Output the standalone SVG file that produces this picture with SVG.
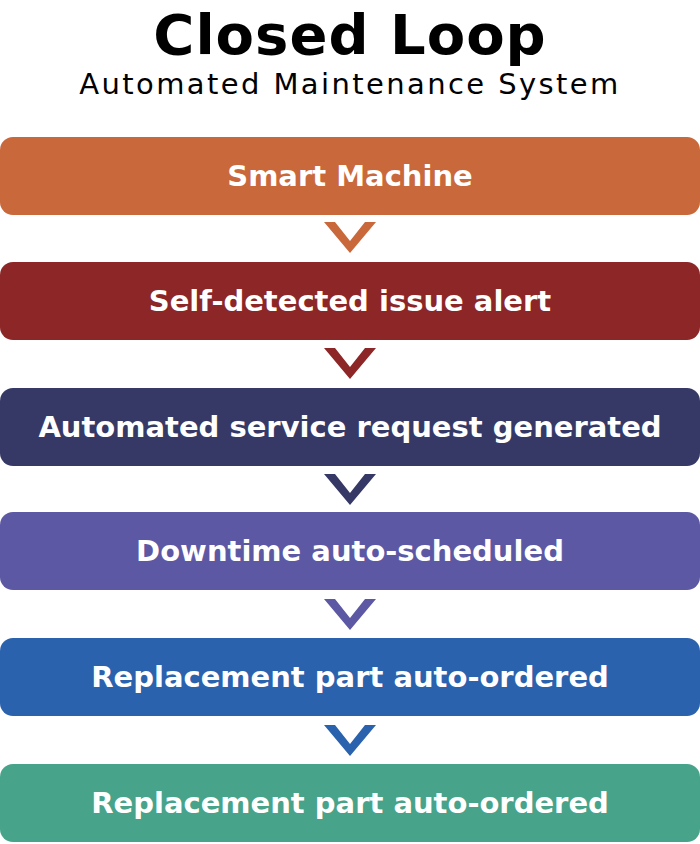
<svg xmlns="http://www.w3.org/2000/svg" width="700" height="844" viewBox="0 0 700 844">
<style>
.t{font-family:"DejaVu Sans",sans-serif;font-weight:bold;font-size:29px;fill:#fff;text-anchor:middle}
</style>
<defs><polygon id="ch" points="-26,0 -15,0 0,19 15,0 26,0 0,31"/></defs>
<rect width="700" height="844" fill="#fff"/>
<text x="350" y="54" font-family="'DejaVu Sans',sans-serif" font-weight="bold" font-size="56" letter-spacing="1" text-anchor="middle" fill="#000">Closed Loop</text>
<text x="350" y="94" font-family="'DejaVu Sans',sans-serif" font-size="29" letter-spacing="2.4" text-anchor="middle" fill="#000">Automated Maintenance System</text>
<g id="n1"><rect x="0" y="137" width="700" height="78" rx="13" fill="#c9683a"/><text class="t" x="350" y="186">Smart Machine</text></g>
<g id="n2"><rect x="0" y="262" width="700" height="78" rx="13" fill="#8c2627"/><text class="t" x="350" y="311">Self-detected issue alert</text></g>
<g id="n3"><rect x="0" y="388" width="700" height="78" rx="13" fill="#363966"/><text class="t" x="350" y="437">Automated service request generated</text></g>
<g id="n4"><rect x="0" y="512" width="700" height="78" rx="13" fill="#5d58a3"/><text class="t" x="350" y="561">Downtime auto-scheduled</text></g>
<g id="n5"><rect x="0" y="638" width="700" height="78" rx="13" fill="#2a62ad"/><text class="t" x="350" y="687">Replacement part auto-ordered</text></g>
<g id="n6"><rect x="0" y="764" width="700" height="78" rx="13" fill="#48a38b"/><text class="t" x="350" y="813">Replacement part auto-ordered</text></g>
<g id="connectors">
<use href="#ch" x="350" y="222" fill="#c9683a"/>
<use href="#ch" x="350" y="348" fill="#8c2627"/>
<use href="#ch" x="350" y="474" fill="#363966"/>
<use href="#ch" x="350" y="599" fill="#5d58a3"/>
<use href="#ch" x="350" y="725" fill="#2a62ad"/>
</g>
</svg>
